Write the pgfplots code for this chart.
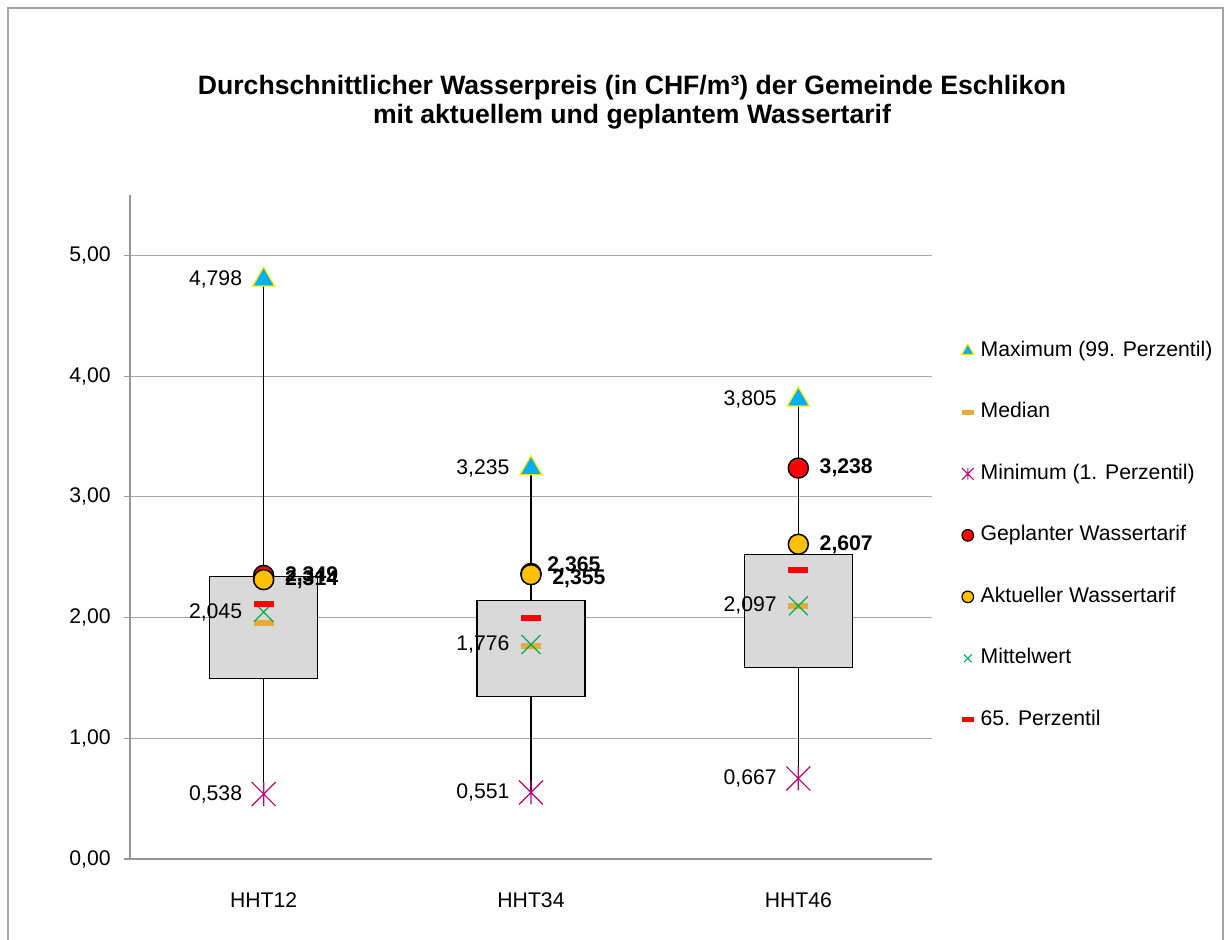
\documentclass[border=0pt]{standalone}
\usepackage{fontspec}
\setmainfont{Liberation Sans}
\usepackage{pgfplots}
\pgfplotsset{compat=1.18}
\usepackage{pgfplotstable}
\usepgfplotslibrary{statistics}

\definecolor{tblue}{RGB}{0,176,240}
\definecolor{tyellow}{RGB}{255,230,0}
\definecolor{medorange}{RGB}{228,172,58}
\definecolor{minmag}{RGB}{200,0,120}
\definecolor{redc}{RGB}{255,0,0}
\definecolor{orangec}{RGB}{255,192,0}
\definecolor{mgreen}{RGB}{0,176,80}
\definecolor{boxgray}{RGB}{217,217,217}
\definecolor{gridgray}{RGB}{166,166,166}
\definecolor{axgray}{RGB}{150,150,150}
\definecolor{framegray}{RGB}{165,165,165}

\pgfdeclareplotmark{xstar}{%
  \pgfpathmoveto{\pgfqpoint{-\pgfplotmarksize}{-\pgfplotmarksize}}%
  \pgfpathlineto{\pgfqpoint{\pgfplotmarksize}{\pgfplotmarksize}}%
  \pgfpathmoveto{\pgfqpoint{-\pgfplotmarksize}{\pgfplotmarksize}}%
  \pgfpathlineto{\pgfqpoint{\pgfplotmarksize}{-\pgfplotmarksize}}%
  \pgfpathmoveto{\pgfqpoint{0pt}{-\pgfplotmarksize}}%
  \pgfpathlineto{\pgfqpoint{0pt}{\pgfplotmarksize}}%
  \pgfusepathqstroke}

\pgfkeys{/pgf/number format/assume math mode=true}

\pgfplotstableread{
x y
0 4.798
1 3.235
2 3.805
}\maxdata
\pgfplotstableread{
x y
0 1.951
1 1.766
2 2.097
}\meddata
\pgfplotstableread{
x y
0 0.538
1 0.551
2 0.667
}\mindata
\pgfplotstableread{
x y
0 2.349
1 2.365
2 3.238
}\geplant
\pgfplotstableread{
x y
0 2.314
1 2.355
2 2.607
}\aktuell
\pgfplotstableread{
x y
0 2.045
1 1.776
2 2.097
}\mittel
\pgfplotstableread{
x y
0 2.116
1 1.993
2 2.392
}\pfs

\pgfplotsset{
  numlbl/.style={point meta=y,
    nodes near coords={\pgfmathprintnumber[fixed,fixed zerofill,precision=3,use comma]{\pgfplotspointmeta}}},
  lblleft/.style={numlbl,
    every node near coord/.append style={anchor=east, inner xsep=0pt, xshift=-10.5pt, text=black}},
  lblright/.style={numlbl,
    every node near coord/.append style={anchor=west, inner xsep=0pt, xshift=10.5pt, text=black, font=\bfseries}},
  boxstyle/.style={forget plot, draw=black, line width=0.6pt, fill=boxgray,
    boxplot/draw direction=y, boxplot/draw/median/.code={}},
}

\begin{document}
\fontsize{10.6}{12.7}\selectfont
\begin{tikzpicture}
\path[use as bounding box] (-65pt,-40pt) rectangle (548.5pt,429.5pt);
\draw[framegray, line width=0.75pt] (-61pt,-60pt) rectangle (546.5pt,425.5pt);
\node[font=\bfseries\fontsize{13.3}{14.5}\selectfont, align=center] at (251pt,378.3pt)
  {Durchschnittlicher Wasserpreis (in CHF/m³) der Gemeinde Eschlikon\\mit aktuellem und geplantem Wassertarif};
\begin{axis}[
  at={(0pt,0pt)}, anchor=south west,
  scale only axis, width=401pt, height=332pt,
  xmin=-0.5, xmax=2.5, ymin=0, ymax=5.5,
  xtick={0,1,2}, xticklabels={HHT12,HHT34,HHT46},
  ytick={0,1,2,3,4,5},
  y tick label style={/pgf/number format/fixed, /pgf/number format/fixed zerofill,
    /pgf/number format/precision=2, /pgf/number format/use comma},
  axis x line*=bottom, axis y line*=left,
  axis line style={draw=axgray, line width=0.6pt},
  ymajorgrids, grid style={draw=gridgray, line width=0.6pt},
  tick align=outside, major tick length=3pt,
  ytick style={draw=axgray, line width=0.6pt},
  xtick style={draw=none},
  yticklabel style={inner xsep=0pt, xshift=-6.5pt},
  xticklabel style={inner ysep=0pt, yshift=-13.75pt},
  legend style={at={(1.0368,0.7817)}, anchor=north west, draw=none, fill=none,
    inner sep=0pt, row sep=20.25pt,
    nodes={inner xsep=3.5pt, inner ysep=0pt, text height=8pt, text depth=2.5pt}},
  legend cell align=left,
]
% boxes (whiskers from minimum to maximum)
\addplot[boxstyle,
  boxplot prepared={draw position=0, lower whisker=0.538, lower quartile=1.498,
    median=1.951, upper quartile=2.343, upper whisker=4.798, box extend=0.404, whisker extend=0}]
  coordinates {};
\addplot[boxstyle,
  boxplot prepared={draw position=1, lower whisker=0.551, lower quartile=1.349,
    median=1.766, upper quartile=2.138, upper whisker=3.235, box extend=0.404, whisker extend=0}]
  coordinates {};
\addplot[boxstyle,
  boxplot prepared={draw position=2, lower whisker=0.667, lower quartile=1.587,
    median=2.097, upper quartile=2.525, upper whisker=3.805, box extend=0.404, whisker extend=0}]
  coordinates {};

% Maximum
\addplot[only marks, mark=triangle*, mark size=6.3pt,
  mark options={fill=tblue, draw=tyellow, line width=0.6pt}, lblleft,
  legend image code/.code={\draw[mark=triangle*, mark size=3.4pt, mark options={fill=tblue, draw=tyellow, line width=0.5pt}] plot coordinates {(0pt,0pt)};}]
  table[x=x,y=y] {\maxdata};
\addlegendentry{Maximum (99. Perzentil)}
% Median
\addplot[only marks, mark=-, mark size=5pt,
  mark options={draw=medorange, line width=3pt},
  legend image code/.code={\draw[mark=-, mark size=2.9pt, mark options={draw=medorange, line width=2.5pt}] plot coordinates {(0pt,0pt)};}]
  table[x=x,y=y] {\meddata};
\addlegendentry{Median}
% Minimum
\addplot[only marks, mark=xstar, mark size=6pt,
  mark options={draw=minmag, line width=0.6pt}, lblleft,
  legend image code/.code={\draw[mark=xstar, mark size=2.9pt, mark options={draw=minmag, line width=0.5pt}] plot coordinates {(0pt,0pt)};}]
  table[x=x,y=y] {\mindata};
\addlegendentry{Minimum (1. Perzentil)}
% Geplanter
\addplot[only marks, mark=*, mark size=5pt,
  mark options={fill=redc, draw=black, line width=0.75pt},
  legend image code/.code={\draw[mark=*, mark size=2.9pt, mark options={fill=redc, draw=black, line width=0.6pt}] plot coordinates {(0pt,0pt)};}]
  table[x=x,y=y] {\geplant};
\addlegendentry{Geplanter Wassertarif}
% Aktueller
\addplot[only marks, mark=*, mark size=5pt,
  mark options={fill=orangec, draw=black, line width=0.75pt},
  legend image code/.code={\draw[mark=*, mark size=2.9pt, mark options={fill=orangec, draw=black, line width=0.6pt}] plot coordinates {(0pt,0pt)};}]
  table[x=x,y=y] {\aktuell};
\addlegendentry{Aktueller Wassertarif}
% Mittelwert
\addplot[only marks, mark=x, mark size=6.7pt,
  mark options={draw=mgreen, line width=0.6pt}, lblleft,
  legend image code/.code={\draw[mark=x, mark size=2.8pt, mark options={draw=mgreen, line width=0.5pt}] plot coordinates {(0pt,0pt)};}]
  table[x=x,y=y] {\mittel};
\addlegendentry{Mittelwert}
% 65. Perzentil
\addplot[only marks, mark=-, mark size=5pt,
  mark options={draw=redc, line width=3pt},
  legend image code/.code={\draw[mark=-, mark size=2.9pt, mark options={draw=redc, line width=2.5pt}] plot coordinates {(0pt,0pt)};}]
  table[x=x,y=y] {\pfs};
\addlegendentry{65. Perzentil}

% data labels of the tariffs (HHT34 labels shifted as in the original)
\addplot[forget plot, only marks, mark=none, lblright] coordinates {(0,2.349) (2,3.238)};
\addplot[forget plot, only marks, mark=none, lblright] coordinates {(0,2.314) (2,2.607)};
\addplot[forget plot, only marks, mark=none, lblright,
  every node near coord/.append style={xshift=-2.5pt, yshift=4pt}] coordinates {(1,2.365)};
\addplot[forget plot, only marks, mark=none, lblright,
  every node near coord/.append style={yshift=-2.25pt}] coordinates {(1,2.355)};
\end{axis}
\end{tikzpicture}
\end{document}
